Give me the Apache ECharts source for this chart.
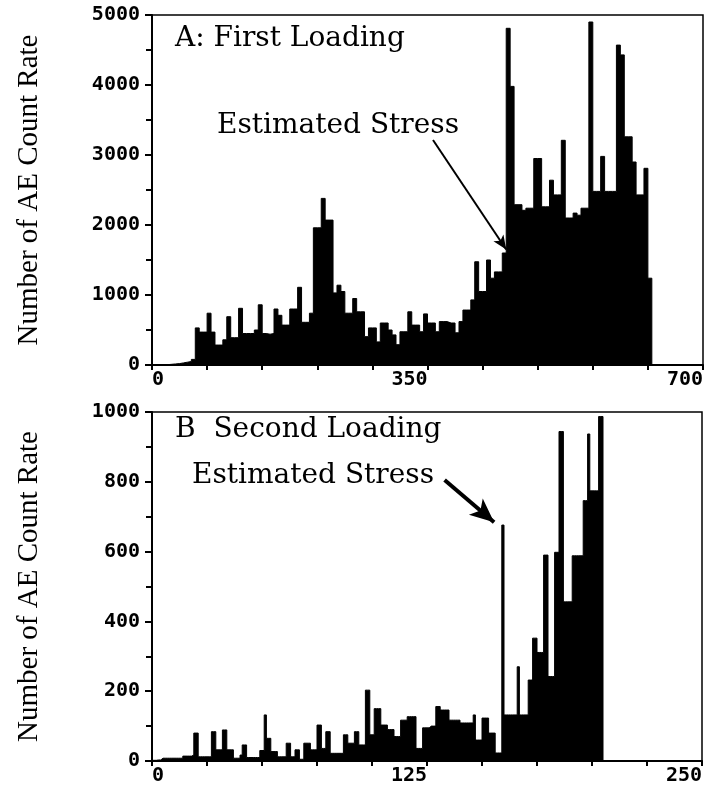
<!DOCTYPE html>
<html><head><meta charset="utf-8">
<script src="https://cdn.jsdelivr.net/npm/echarts@6/dist/echarts.min.js"></script>
<style>html,body{margin:0;padding:0;background:#fff}#c{width:708px;height:786px}</style>
</head><body><div id="c"></div>
<script>
// ---- Panel A: First Loading (bin width 5) ----
const binWidthA = 5;
const valuesA = [
  0, 0, 0, 5, 10, 15, 20, 30, 40, 50, 80,
  530, 470, 470, 740, 470, 285, 285, 360, 690, 390,
  390, 810, 450, 450, 450, 500, 860, 450, 440, 450,
  800, 710, 570, 570, 800, 800, 1110, 610, 610, 740,
  1960, 1960, 2380, 2070, 2070, 1030, 1140, 1050, 740, 740,
  950, 760, 760, 405, 530, 530, 330, 600, 600, 500,
  430, 290, 475, 475, 760, 570, 570, 475, 730, 600,
  600, 475, 620, 620, 600, 600, 460, 620, 785, 785,
  930, 1475, 1050, 1050, 1500, 1240, 1330, 1330, 1600, 4810,
  3980, 2290, 2290, 2210, 2240, 2240, 2950, 2950, 2260, 2260,
  2640, 2430, 2430, 3210, 2100, 2100, 2170, 2140, 2240, 2240,
  4900, 2480, 2480, 2980, 2480, 2480, 2480, 4570, 4430, 3260,
  3260, 2900, 2430, 2430, 2810, 1240
];
const xTicksA = [0, 350, 700];
const yTicksA = [0, 1000, 2000, 3000, 4000, 5000];
const titleA = 'A: First Loading';
const arrowA = { from: [357, 3214], to: [450, 1650] };

// ---- Panel B: Second Loading (bin width 1) ----
const binWidthB = 1;
const valuesB = [
  2, 2, 3, 3, 8, 8, 8, 8, 8, 8,
  8, 8, 8, 8, 14, 14, 14, 14, 17, 80,
  80, 12, 12, 12, 12, 12, 12, 84, 84, 32,
  32, 32, 89, 89, 32, 32, 32, 8, 8, 8,
  17, 46, 46, 10, 10, 10, 10, 10, 10, 30,
  30, 132, 65, 65, 27, 27, 27, 12, 12, 12,
  12, 51, 51, 12, 12, 32, 32, 5, 5, 51,
  51, 51, 32, 32, 32, 103, 103, 36, 36, 84,
  84, 22, 22, 22, 22, 22, 22, 75, 75, 51,
  51, 51, 84, 84, 46, 46, 46, 203, 203, 75,
  75, 150, 150, 150, 103, 103, 103, 90, 90, 90,
  70, 70, 70, 117, 117, 117, 127, 127, 127, 127,
  36, 36, 36, 95, 95, 95, 100, 100, 100, 156,
  156, 146, 146, 146, 146, 117, 117, 117, 117, 117,
  109, 109, 109, 109, 109, 109, 132, 60, 60, 60,
  123, 123, 123, 80, 80, 80, 23, 23, 23, 676,
  132, 132, 132, 132, 132, 132, 270, 132, 132, 132,
  132, 232, 232, 352, 352, 311, 311, 311, 590, 590,
  242, 242, 242, 598, 598, 944, 944, 456, 456, 456,
  456, 588, 588, 588, 588, 588, 746, 746, 937, 774,
  774, 774, 774, 987, 987
];
const xTicksB = [0, 125, 250];
const yTicksB = [0, 200, 400, 600, 800, 1000];
const titleB = 'B  Second Loading';
const arrowB = { from: [133, 805], to: [155.5, 684] };

const annotationText = 'Estimated Stress';
const yAxisName = 'Number of AE Count Rate';

function toSteps(values, w) {
  const d = values.map((v, i) => [i * w, v]);
  d.push([values.length * w, 0]);
  return d;
}

const tickFont = { fontFamily: 'DejaVu Sans Mono', fontWeight: 'bold', fontSize: 20, color: '#000', formatter: v => String(v) };

function xAxisCfg(gi, ticks) {
  return {
    gridIndex: gi, type: 'value',
    min: ticks[0], max: ticks[ticks.length - 1], interval: ticks[1] - ticks[0],
    axisLine: { show: true, onZero: false, lineStyle: { color: '#000', width: 2 } },
    axisTick: { show: true, length: 5, lineStyle: { color: '#000', width: 2 } },
    minorTick: { show: true, splitNumber: 5, length: 5, lineStyle: { color: '#000', width: 2 } },
    splitLine: { show: false },
    axisLabel: Object.assign({ margin: 5, align: 'right', alignMinLabel: 'left' }, tickFont)
  };
}
function yAxisCfg(gi, ticks) {
  return {
    gridIndex: gi, type: 'value',
    min: ticks[0], max: ticks[ticks.length - 1], interval: ticks[1] - ticks[0],
    name: yAxisName, nameLocation: 'middle', nameGap: 108, nameRotate: 90,
    nameTextStyle: { fontFamily: 'Liberation Serif', fontSize: 29, color: '#000' },
    axisLine: { show: true, lineStyle: { color: '#000', width: 2 } },
    axisTick: { show: true, length: 7, lineStyle: { color: '#000', width: 2 } },
    minorTick: { show: true, splitNumber: 2, length: 6, lineStyle: { color: '#000', width: 2 } },
    splitLine: { show: false },
    axisLabel: Object.assign({ margin: 12 }, tickFont)
  };
}
function seriesCfg(i, values, w, arrow, lw, asz) {
  return {
    type: 'line', xAxisIndex: i, yAxisIndex: i, step: 'end', symbol: 'none',
    data: toSteps(values, w),
    lineStyle: { color: '#000', width: 1 },
    areaStyle: { color: '#000', opacity: 1 },
    markLine: {
      silent: true, animation: false,
      label: { show: false },
      lineStyle: { color: '#000', width: lw, type: 'solid' },
      data: [[
        { coord: arrow.from, symbol: 'none' },
        { coord: arrow.to, symbol: 'arrow', symbolSize: asz }
      ]]
    }
  };
}

const serifText = { fontFamily: 'DejaVu Serif', fontSize: 28, fontWeight: 'normal', color: '#000' };

const chart = echarts.init(document.getElementById('c'), null, { renderer: 'canvas' });
chart.setOption({
  animation: false,
  backgroundColor: '#fff',
  grid: [
    { left: 152, top: 15, width: 551, height: 350, show: true, borderColor: '#000', borderWidth: 1.5, backgroundColor: 'transparent' },
    { left: 152, top: 412, width: 550, height: 349, show: true, borderColor: '#000', borderWidth: 1.5, backgroundColor: 'transparent' }
  ],
  title: [
    { text: titleA, left: 175, top: 25, padding: 0, textStyle: serifText },
    { text: annotationText, left: 217, top: 112, padding: 0, textStyle: serifText },
    { text: titleB, left: 175, top: 416, padding: 0, textStyle: serifText },
    { text: annotationText, left: 192, top: 462, padding: 0, textStyle: serifText }
  ],
  xAxis: [xAxisCfg(0, xTicksA), xAxisCfg(1, xTicksB)],
  yAxis: [yAxisCfg(0, yTicksA), yAxisCfg(1, yTicksB)],
  series: [
    seriesCfg(0, valuesA, binWidthA, arrowA, 2, [9, 14]),
    seriesCfg(1, valuesB, binWidthB, arrowB, 4, [16, 24])
  ]
});
</script></body></html>
